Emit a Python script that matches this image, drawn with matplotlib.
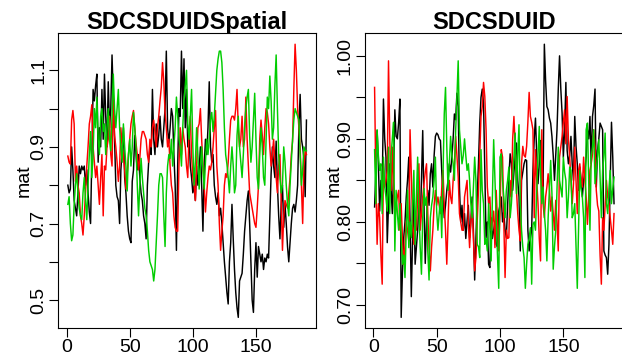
import matplotlib
matplotlib.use("Agg")
import matplotlib.pyplot as plt
import numpy as np

plt.rcParams['font.family'] = ['Liberation Sans', 'DejaVu Sans']

# ---- panel 1: SDCSDUIDSpatial (three columns of mat, 190 rows) ----
spatial_black = [
    0.80, 0.78, 0.79, 0.90, 0.84, 0.76, 0.74, 0.72, 0.78, 0.85,
    0.83, 0.85, 0.84, 0.85, 0.80, 0.84, 0.78, 0.73, 0.70, 0.88,
    1.05, 1.02, 1.06, 1.09, 0.86, 0.95, 0.90, 1.05, 0.92, 1.09,
    0.98, 0.90, 1.07, 0.95, 1.00, 1.14, 1.03, 0.92, 0.80, 0.77,
    0.76, 0.70, 0.84, 0.89, 0.95, 0.82, 0.78, 0.72, 0.68, 0.66,
    0.65, 0.81, 0.84, 0.93, 0.88, 0.84, 0.88, 0.82, 0.78, 0.76,
    0.72, 0.70, 0.66, 0.80, 0.86, 0.90, 0.88, 1.05, 0.92, 0.88,
    0.96, 0.90, 0.93, 0.98, 0.92, 0.90, 0.95, 1.00, 1.15, 0.95,
    0.91, 0.95, 1.00, 0.98, 0.88, 0.80, 0.63, 0.85, 1.00, 0.98,
    1.15, 1.00, 1.13, 0.95, 1.05, 0.90, 0.93, 0.85, 0.82, 0.78,
    0.80, 0.76, 0.85, 0.80, 0.84, 0.90, 0.80, 0.68, 0.85, 0.92,
    0.88, 0.95, 1.07, 0.90, 0.86, 0.88, 0.80, 0.77, 0.75, 0.78,
    0.72, 0.74, 0.70, 0.65, 0.60, 0.56, 0.52, 0.49, 0.60, 0.65,
    0.75, 0.66, 0.58, 0.52, 0.48, 0.455, 0.55, 0.56, 0.57, 0.62,
    0.68, 0.72, 0.76, 0.785, 0.70, 0.60, 0.50, 0.468, 0.58, 0.65,
    0.56, 0.64, 0.62, 0.60, 0.62, 0.58, 0.61, 0.60, 0.62, 0.61,
    0.72, 0.83, 0.90, 0.85, 0.82, 0.915, 0.80, 0.72, 0.66, 0.75,
    0.80, 0.69, 0.75, 0.70, 0.64, 0.60, 0.65, 0.70, 0.74, 0.75,
    0.73, 0.76, 0.80, 0.95, 1.037, 0.92, 0.90, 0.87, 0.77, 0.97,
]
spatial_red = [
    0.876, 0.86, 0.855, 0.97, 0.995, 0.96, 0.81, 0.85, 0.80, 0.78,
    0.72, 0.70, 0.67, 0.72, 0.78, 0.85, 0.90, 0.96, 0.98, 1.01,
    0.90, 0.86, 0.82, 0.85, 0.80, 0.75, 0.82, 0.88, 0.72, 0.85,
    0.84, 0.90, 0.92, 0.98, 0.88, 0.85, 1.03, 0.93, 0.90, 0.86,
    0.81, 0.85, 0.95, 0.90, 0.88, 0.84, 0.79, 0.83, 0.88, 0.92,
    0.96, 0.98, 0.995, 0.95, 0.91, 0.88, 0.84, 0.87, 0.92, 0.94,
    0.94, 0.93, 0.92, 0.88, 0.86, 0.92, 0.90, 0.95, 0.97, 0.94,
    0.90, 0.95, 0.98, 1.02, 1.055, 1.12, 1.07, 0.99, 0.95, 0.90,
    0.92, 0.85, 0.80, 0.78, 0.72, 0.69, 0.68, 0.68, 0.85, 0.95,
    0.88, 0.95, 0.92, 0.90, 0.85, 0.82, 0.94, 0.98, 0.88, 0.82,
    0.80, 0.76, 0.85, 0.95, 0.96, 1.00, 0.92, 0.85, 0.80, 0.73,
    0.78, 0.82, 0.85, 0.84, 0.86, 0.90, 0.95, 0.995, 0.85, 0.80,
    0.70, 0.63, 0.68, 0.72, 0.80, 0.83, 0.82, 0.86, 0.92, 0.97,
    0.98, 0.98, 0.97, 1.00, 1.05, 0.95, 0.90, 0.92, 0.98, 0.90,
    0.92, 1.03, 0.92, 0.85, 0.78, 0.76, 0.74, 0.72, 0.70, 0.69,
    0.74, 0.80, 0.92, 0.97, 0.93, 0.88, 0.95, 1.00, 0.99, 0.96,
    0.90, 0.85, 0.88, 0.92, 0.86, 0.82, 0.78, 0.85, 0.88, 0.75,
    0.63, 0.72, 0.76, 0.75, 0.74, 0.78, 0.82, 0.88, 0.915, 1.05,
    1.168, 1.10, 1.00, 0.95, 0.90, 0.80, 0.70, 0.85, 0.89, 0.88,
]
spatial_green = [
    0.75, 0.77, 0.70, 0.655, 0.67, 0.75, 0.80, 0.83, 0.78, 0.74,
    0.72, 0.71, 0.78, 0.82, 0.76, 0.71, 0.80, 0.88, 0.94, 0.82,
    0.88, 1.00, 0.95, 1.03, 0.92, 0.88, 0.98, 1.00, 0.94, 0.96,
    0.88, 0.95, 1.00, 0.92, 0.89, 0.98, 1.09, 1.00, 0.95, 1.00,
    1.05, 0.95, 0.90, 0.86, 0.96, 0.90, 0.85, 0.785, 0.88, 0.92,
    0.85, 0.90, 0.99, 0.95, 0.90, 0.80, 0.72, 0.80, 0.87, 0.82,
    0.78, 0.74, 0.72, 0.68, 0.63, 0.60, 0.59, 0.58, 0.55, 0.58,
    0.65, 0.72, 0.80, 0.83, 0.83, 0.82, 0.72, 0.64, 0.78, 0.85,
    0.88, 0.87, 0.92, 0.85, 0.90, 0.95, 1.03, 0.98, 0.92, 0.90,
    0.85, 0.95, 1.02, 1.06, 1.10, 0.96, 0.92, 0.98, 1.05, 0.90,
    0.80, 0.86, 0.95, 0.88, 0.79, 0.85, 0.90, 0.84, 0.79, 0.86,
    0.92, 0.88, 0.92, 0.97, 0.99, 0.94, 0.98, 1.04, 1.10, 1.13,
    1.15, 1.15, 1.12, 1.05, 0.95, 0.88, 0.855, 0.82, 0.78, 0.85,
    0.90, 0.85, 0.78, 0.80, 0.93, 0.98, 0.90, 0.86, 0.82, 0.88,
    0.95, 1.00, 1.03, 1.05, 0.93, 0.86, 0.90, 0.97, 1.04, 0.92,
    0.82, 0.79, 0.88, 0.95, 0.90, 0.82, 0.80, 0.92, 1.03, 1.00,
    1.085, 1.02, 0.92, 0.95, 1.06, 1.14, 1.00, 0.88, 0.82, 0.78,
    0.80, 0.90, 0.86, 0.80, 0.75, 0.72, 0.80, 0.86, 0.92, 0.97,
    1.00, 0.99, 0.98, 0.97, 0.88, 0.80, 0.84, 0.90, 0.89, 0.89,
]

# ---- panel 2: SDCSDUID ----
sdcsduid_black = [
    0.818, 0.86, 0.91, 0.87, 0.813, 0.85, 0.838, 0.948, 0.90, 0.878,
    0.775, 0.82, 0.87, 0.84, 0.81, 0.86, 0.935, 0.903, 0.90, 0.92,
    0.948, 0.685, 0.74, 0.781, 0.80, 0.83, 0.85, 0.878, 0.80, 0.71,
    0.78, 0.83, 0.749, 0.77, 0.79, 0.82, 0.798, 0.85, 0.91, 0.82,
    0.75, 0.80, 0.838, 0.82, 0.858, 0.87, 0.842, 0.88, 0.903, 0.907,
    0.905, 0.90, 0.898, 0.862, 0.83, 0.805, 0.82, 0.838, 0.85, 0.87,
    0.86, 0.878, 0.90, 0.93, 0.923, 0.955, 0.939, 0.842, 0.80, 0.82,
    0.79, 0.81, 0.78, 0.801, 0.82, 0.781, 0.80, 0.83, 0.79, 0.73,
    0.78, 0.83, 0.87, 0.919, 0.95, 0.96, 0.943, 0.86, 0.781, 0.80,
    0.749, 0.745, 0.805, 0.78, 0.79, 0.80, 0.773, 0.77, 0.813, 0.82,
    0.83, 0.80, 0.813, 0.79, 0.781, 0.82, 0.854, 0.882, 0.87, 0.838,
    0.86, 0.88, 0.895, 0.85, 0.83, 0.765, 0.85, 0.86, 0.87, 0.875,
    0.874, 0.79, 0.765, 0.78, 0.79, 0.862, 0.90, 0.925, 0.88, 0.846,
    0.87, 0.898, 0.86, 0.838, 1.014, 0.97, 0.939, 0.935, 0.925, 0.919,
    0.903, 0.88, 0.85, 0.88, 0.911, 0.96, 1.0, 0.96, 0.931, 0.878,
    0.911, 0.968, 0.886, 0.87, 0.88, 0.903, 0.87, 0.85, 0.927, 0.891,
    0.87, 0.838, 0.866, 0.85, 0.83, 0.85, 0.86, 0.878, 0.911, 0.90,
    0.927, 0.87, 0.927, 0.94, 0.96, 0.842, 0.886, 0.90, 0.919, 0.915,
    0.911, 0.765, 0.76, 0.757, 0.737, 0.773, 0.85, 0.92, 0.878, 0.822,
]
sdcsduid_red = [
    0.962, 0.85, 0.773, 0.822, 0.805, 0.76, 0.725, 0.87, 0.842, 0.85,
    0.862, 0.994, 0.90, 0.838, 0.89, 0.84, 0.805, 0.822, 0.83, 0.838,
    0.79, 0.822, 0.78, 0.749, 0.773, 0.801, 0.79, 0.777, 0.911, 0.858,
    0.80, 0.773, 0.805, 0.79, 0.83, 0.87, 0.79, 0.81, 0.83, 0.846,
    0.86, 0.87, 0.81, 0.77, 0.741, 0.77, 0.79, 0.82, 0.838, 0.82,
    0.83, 0.82, 0.81, 0.84, 0.862, 0.82, 0.79, 0.749, 0.80, 0.85,
    0.83, 0.822, 0.85, 0.87, 0.903, 0.88, 0.854, 0.81, 0.80, 0.79,
    0.79, 0.83, 0.84, 0.85, 0.80, 0.769, 0.80, 0.822, 0.78, 0.741,
    0.757, 0.80, 0.838, 0.88, 0.927, 0.939, 0.968, 0.951, 0.911, 0.842,
    0.822, 0.83, 0.79, 0.80, 0.813, 0.769, 0.838, 0.80, 0.765, 0.81,
    0.887, 0.878, 0.80, 0.733, 0.79, 0.78, 0.781, 0.85, 0.83, 0.90,
    0.927, 0.891, 0.838, 0.81, 0.79, 0.777, 0.87, 0.891, 0.88, 0.878,
    0.891, 0.92, 0.956, 0.927, 0.92, 0.911, 0.805, 0.887, 0.85, 0.822,
    0.78, 0.753, 0.911, 0.822, 0.805, 0.83, 0.842, 0.858, 0.84, 0.813,
    0.83, 0.81, 0.79, 0.826, 0.80, 0.765, 0.878, 0.89, 0.903, 0.92,
    0.935, 0.894, 0.951, 0.90, 0.878, 0.85, 0.822, 0.846, 0.89, 0.85,
    0.81, 0.862, 0.87, 0.85, 0.842, 0.878, 0.85, 0.83, 0.797, 0.83,
    0.862, 0.87, 0.882, 0.911, 0.89, 0.838, 0.82, 0.813, 0.76, 0.725,
    0.805, 0.79, 0.82, 0.85, 0.83, 0.822, 0.805, 0.79, 0.773, 0.81,
]
sdcsduid_green = [
    0.887, 0.822, 0.911, 0.88, 0.862, 0.87, 0.81, 0.878, 0.842, 0.83,
    0.813, 0.89, 0.81, 0.878, 0.90, 0.92, 0.765, 0.838, 0.81, 0.79,
    0.822, 0.78, 0.749, 0.76, 0.733, 0.79, 0.838, 0.769, 0.80, 0.781,
    0.82, 0.862, 0.773, 0.83, 0.878, 0.813, 0.77, 0.737, 0.805, 0.84,
    0.82, 0.83, 0.765, 0.73, 0.805, 0.82, 0.83, 0.85, 0.878, 0.813,
    0.79, 0.81, 0.83, 0.781, 0.858, 0.93, 0.962, 0.891, 0.838, 0.87,
    0.903, 0.88, 0.87, 0.85, 0.91, 0.95, 0.994, 0.911, 0.89, 0.87,
    0.88, 0.90, 0.88, 0.862, 0.87, 0.85, 0.822, 0.805, 0.84, 0.878,
    0.85, 0.773, 0.77, 0.757, 0.887, 0.838, 0.822, 0.773, 0.78, 0.765,
    0.822, 0.79, 0.753, 0.83, 0.899, 0.85, 0.805, 0.76, 0.72, 0.878,
    0.882, 0.85, 0.83, 0.805, 0.838, 0.85, 0.866, 0.805, 0.822, 0.85,
    0.878, 0.907, 0.834, 0.88, 0.917, 0.822, 0.79, 0.77, 0.757, 0.72,
    0.749, 0.773, 0.78, 0.793, 0.725, 0.797, 0.80, 0.79, 0.838, 0.88,
    0.915, 0.86, 0.822, 0.842, 0.81, 0.79, 0.753, 0.805, 0.84, 0.874,
    0.834, 0.743, 0.77, 0.79, 0.842, 0.89, 0.85, 0.84, 0.83, 0.878,
    0.86, 0.85, 0.805, 0.83, 0.866, 0.862, 0.805, 0.81, 0.822, 0.77,
    0.72, 0.79, 0.862, 0.84, 0.83, 0.805, 0.733, 0.911, 0.919, 0.85,
    0.79, 0.878, 0.89, 0.911, 0.846, 0.862, 0.88, 0.899, 0.854, 0.805,
    0.862, 0.88, 0.907, 0.822, 0.81, 0.84, 0.862, 0.822, 0.84, 0.854,
]

titles = ["SDCSDUIDSpatial", "SDCSDUID"]
y_ticks = [np.arange(0.5, 1.15, 0.1), np.arange(0.70, 1.01, 0.05)]
y_ticklabels = [["0.5", "", "0.7", "", "0.9", "", "1.1"],
                ["0.70", "", "0.80", "", "0.90", "", "1.00"]]
x_ticks = [0, 50, 100, 150]
colors = ["black", "#FF0000", "#00CD00"]

W, H = 622, 358
fig = plt.figure(figsize=(W / 100, H / 100), dpi=100)

# axes boxes in pixels: left, top, width, height
boxes = [(58.3, 33.3, 257.7, 295.0), (365.0, 33.3, 258.6, 295.0)]
label_x = [-0.101, -0.088]

panels = [[spatial_black, spatial_red, spatial_green],
          [sdcsduid_black, sdcsduid_red, sdcsduid_green]]

for k in range(2):
    l, t, w, h = boxes[k]
    ax = fig.add_axes([l / W, 1 - (t + h) / H, w / W, h / H])
    for series, c in zip(panels[k], colors):
        ys = np.array(series)
        xs = np.arange(1, len(ys) + 1)
        ax.plot(xs, ys, color=c, linewidth=1.05)
    ax.margins(x=0.04, y=0.04)

    ax.set_xticks(x_ticks)
    ax.set_xticklabels([str(v) for v in x_ticks])
    ax.set_yticks(y_ticks[k])
    ax.set_yticklabels(y_ticklabels[k], rotation=90, va='center')
    ax.tick_params(axis='both', direction='out', length=6.5, width=0.8,
                   labelsize=14, pad=1.5, colors='black')
    for s in ax.spines.values():
        s.set_linewidth(0.8)
        s.set_color('black')

    ax.set_ylabel("mat", fontsize=14)
    ax.yaxis.set_label_coords(label_x[k], 0.5)
    ax.set_title(titles[k], fontsize=17, fontweight='bold',
                 y=1 + 4.0 / h, pad=0, va='baseline')

fig.savefig("out.png", dpi=100)
